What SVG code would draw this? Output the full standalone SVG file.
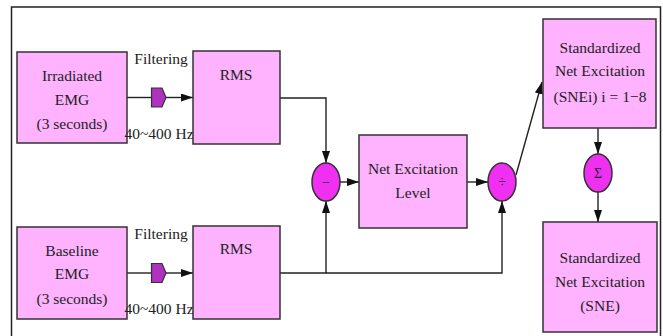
<svg xmlns="http://www.w3.org/2000/svg" width="663" height="336" viewBox="0 0 663 336">
<style>
.box{fill:#ffb3ff;stroke:#333;stroke-width:1.5}
.op{fill:#f030f0;stroke:#333;stroke-width:1.5}
.flt{fill:#b030c0;stroke:#333;stroke-width:1.2}
.t{font-family:'Liberation Serif','Tinos','Times New Roman','DejaVu Serif',serif;font-size:15.5px;fill:#222;text-anchor:middle}
.s{font-family:'Liberation Serif','Tinos','Times New Roman','DejaVu Serif',serif;font-size:14px;fill:#222;text-anchor:middle}
.c{fill:none;stroke:#222;stroke-width:1.4}
</style>
<defs>
<marker id="ah" markerUnits="userSpaceOnUse" markerWidth="13" markerHeight="10" refX="12" refY="4" orient="auto">
<path d="M0,0 L12,4 L0,8 Z" fill="#111"/>
</marker>
</defs>
<rect x="11.5" y="7" width="649" height="340" fill="#fff" stroke="#222" stroke-width="1.5"/>
<g id="connectors">
<path class="c" d="M127,97.5 H151"/>
<path class="c" d="M166,97.5 H193" marker-end="url(#ah)"/>
<path class="c" d="M127,273 H151"/>
<path class="c" d="M166,273 H193" marker-end="url(#ah)"/>
<path class="c" d="M280,98 H326 V163" marker-end="url(#ah)"/>
<path class="c" d="M280,273 H326 V201" marker-end="url(#ah)"/>
<path class="c" d="M326,273 H502 V201" marker-end="url(#ah)"/>
<path class="c" d="M340,182 H359" marker-end="url(#ah)"/>
<path class="c" d="M467,182 H488" marker-end="url(#ah)"/>
<path class="c" d="M516,175 L542,82" marker-end="url(#ah)"/>
<path class="c" d="M598,128 V154" marker-end="url(#ah)"/>
<path class="c" d="M598,192 V222" marker-end="url(#ah)"/>
</g>
<g id="irradiated">
<rect class="box" x="17" y="52" width="110" height="91"/>
<text class="t" x="72" y="81">Irradiated</text>
<text class="t" x="72" y="105">EMG</text>
<text class="t" x="72" y="129">(3 seconds)</text>
</g>
<g id="filter1">
<path class="flt" d="M151.5,88 H162 L166,97.5 L162,107 H151.5 Z"/>
<text class="t" x="161" y="64">Filtering</text>
<text class="t" x="159" y="139">40~400 Hz</text>
</g>
<g id="rms1">
<rect class="box" x="193" y="51" width="87" height="93"/>
<text class="t" x="236" y="80">RMS</text>
</g>
<g id="baseline">
<rect class="box" x="17" y="227" width="110" height="92"/>
<text class="t" x="72" y="256">Baseline</text>
<text class="t" x="72" y="279">EMG</text>
<text class="t" x="72" y="304">(3 seconds)</text>
</g>
<g id="filter2">
<path class="flt" d="M151.5,263.5 H162 L166,273 L162,282.5 H151.5 Z"/>
<text class="t" x="161" y="239">Filtering</text>
<text class="t" x="159" y="314">40~400 Hz</text>
</g>
<g id="rms2">
<rect class="box" x="193" y="226" width="87" height="93"/>
<text class="t" x="236" y="254">RMS</text>
</g>
<g id="minus">
<ellipse class="op" cx="326" cy="182" rx="14" ry="19"/>
<text class="s" x="326" y="187">−</text>
</g>
<g id="nel">
<rect class="box" x="359" y="135" width="108" height="93"/>
<text class="t" x="413" y="174">Net Excitation</text>
<text class="t" x="413" y="198">Level</text>
</g>
<g id="divide">
<ellipse class="op" cx="502" cy="182" rx="14" ry="19"/>
<text class="s" x="502" y="187">÷</text>
</g>
<g id="snei">
<rect class="box" x="543" y="19" width="113" height="109"/>
<text class="t" x="600" y="53">Standardized</text>
<text class="t" x="600" y="76">Net Excitation</text>
<text class="t" x="600" y="102">(SNEi) i = 1−8</text>
</g>
<g id="sum">
<ellipse class="op" cx="598" cy="173" rx="14" ry="19"/>
<text class="s" x="598" y="178">Σ</text>
</g>
<g id="sne">
<rect class="box" x="543" y="222" width="114" height="110"/>
<text class="t" x="600" y="263">Standardized</text>
<text class="t" x="600" y="287">Net Excitation</text>
<text class="t" x="600" y="311">(SNE)</text>
</g>
</svg>
